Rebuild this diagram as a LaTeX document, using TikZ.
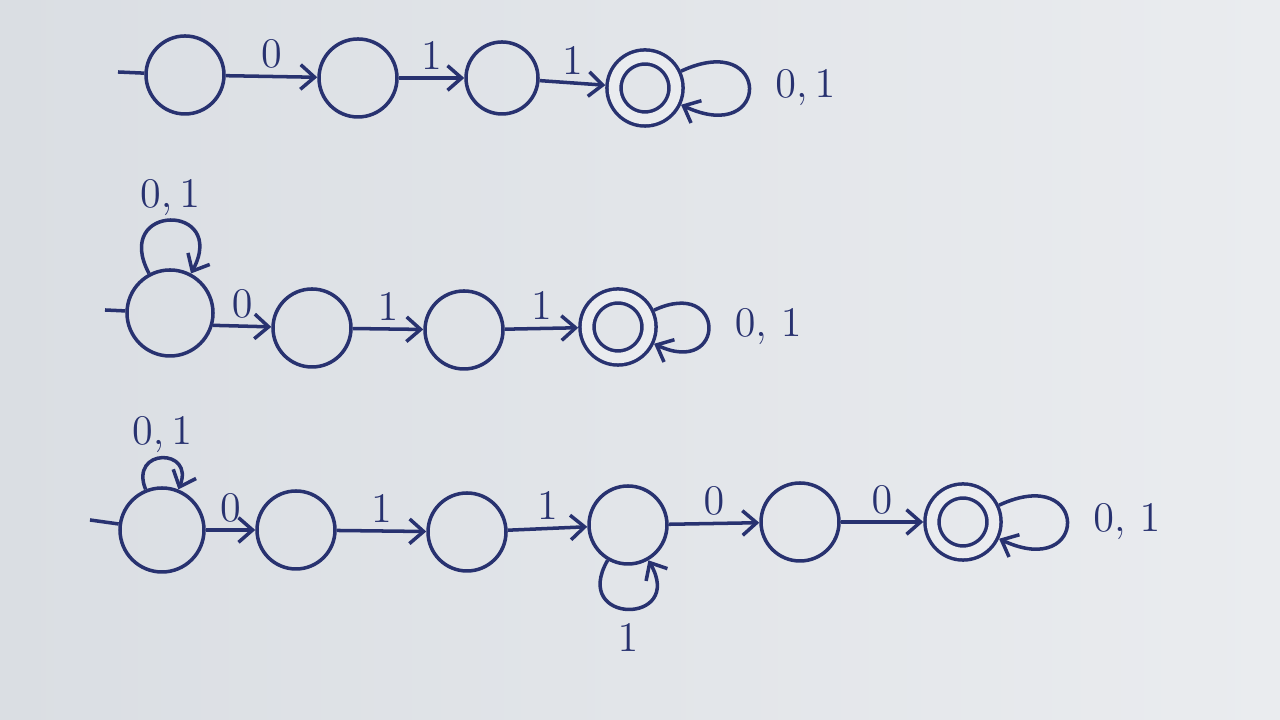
\documentclass[tikz,border=0pt]{standalone}
\usepackage{tikz}
\usepackage{xcolor}
\usetikzlibrary{arrows.meta,positioning}
\definecolor{InkColor}{RGB}{40,50,112}
\definecolor{PaperLeft}{RGB}{218,222,227}
\definecolor{PaperRight}{RGB}{234,236,239}
\tikzset{
  nfastate/.style={circle, draw=InkColor, line width=1pt, minimum size=0.78cm, inner sep=0pt},
  nfaaccept/.style={nfastate, minimum size=0.62cm, double=PaperRight, double distance=3pt, outer sep=2.5pt},
  nfalabel/.style={font=\large, text=InkColor, inner sep=2pt},
  nfaedge/.style={->, draw=InkColor, line width=1pt},
}

\begin{document}
\begin{tikzpicture}[>={Straight Barb[length=4pt,width=7pt]}]
      \useasboundingbox (0,0) rectangle (12.8,7.2);
      \shade[left color=PaperLeft, right color=PaperRight] (0,0) rectangle (12.8,7.2);

      \coordinate (s1) at (1.18,6.48);
      \node[nfastate] (A1) at (1.85,6.45) {};
      \node[nfastate] (B1) at (3.58,6.42) {};
      \node[nfastate, minimum size=0.72cm] (C1) at (5.02,6.42) {};
      \node[nfaaccept] (D1) at (6.45,6.32) {};

      \coordinate (s2) at (1.05,4.10);
      \node[nfastate, minimum size=0.86cm] (A2) at (1.70,4.07) {};
      \node[nfastate] (B2) at (3.12,3.92) {};
      \node[nfastate] (C2) at (4.64,3.90) {};
      \node[nfaaccept] (D2) at (6.18,3.93) {};

      \coordinate (s3) at (0.90,2.00);
      \node[nfastate, minimum size=0.84cm] (A3) at (1.62,1.90) {};
      \node[nfastate] (B3) at (2.96,1.90) {};
      \node[nfastate] (C3) at (4.67,1.88) {};
      \node[nfastate] (D3) at (6.28,1.95) {};
      \node[nfastate] (E3) at (8.00,1.98) {};
      \node[nfaaccept] (F3) at (9.63,1.98) {};

      \draw[InkColor, line width=1pt] (s1)--(A1);
      \draw[nfaedge] (A1)--node[nfalabel, above] {$0$} (B1);
      \draw[nfaedge] (B1)--node[nfalabel, above] {$1$} (C1);
      \draw[nfaedge] (C1)--node[nfalabel, above] {$1$} (D1);
      \draw[nfaedge] (D1) to[out=25, in=-25, min distance=1.0cm] node[nfalabel, right=5pt] {$0,1$} (D1);

      \draw[InkColor, line width=1pt] (s2)--(A2);
      \draw[nfaedge] (A2) to[out=118, in=62, min distance=0.8cm] node[nfalabel, above=-1pt] {$0,1$} (A2);
      \draw[nfaedge] (A2.-16)--node[nfalabel, above] {$0$} (B2);
      \draw[nfaedge] (B2)--node[nfalabel, above] {$1$} (C2);
      \draw[nfaedge] (C2)--node[nfalabel, above] {$1$} (D2);
      \draw[nfaedge] (D2) to[out=25, in=-25, min distance=0.8cm] node[nfalabel, right=5pt] {$0,\,1$} (D2);

      \draw[InkColor, line width=1pt] (s3)--(A3);
      \draw[nfaedge] (A3) to[out=112, in=68, min distance=0.45cm] node[nfalabel, above=-1pt] {$0,1$} (A3);
      \draw[nfaedge] (A3)--node[nfalabel, above] {$0$} (B3);
      \draw[nfaedge] (B3)--node[nfalabel, above] {$1$} (C3);
      \draw[nfaedge] (C3)--node[nfalabel, above] {$1$} (D3);
      \draw[nfaedge] (D3) to[out=-120, in=-60, min distance=0.75cm] node[nfalabel, below=2pt] {$1$} (D3);
      \draw[nfaedge] (D3)--node[nfalabel, above] {$0$} (E3);
      \draw[nfaedge] (E3)--node[nfalabel, above] {$0$} (F3);
      \draw[nfaedge] (F3) to[out=25, in=-25, min distance=1.0cm] node[nfalabel, right=5pt] {$0,\,1$} (F3);
    \end{tikzpicture}
\end{document}
